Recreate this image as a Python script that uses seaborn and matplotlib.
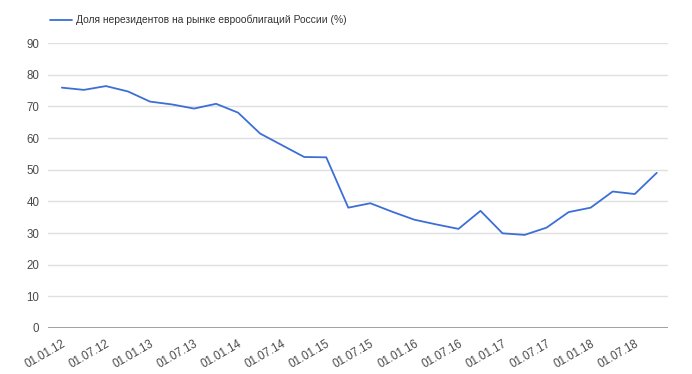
import numpy as np
import pandas as pd
import matplotlib.pyplot as plt
import seaborn as sns

# квартальные данные
kvartaly = ["01.01.12", "01.04.12", "01.07.12", "01.10.12",
            "01.01.13", "01.04.13", "01.07.13", "01.10.13",
            "01.01.14", "01.04.14", "01.07.14", "01.10.14",
            "01.01.15", "01.04.15", "01.07.15", "01.10.15",
            "01.01.16", "01.04.16", "01.07.16", "01.10.16",
            "01.01.17", "01.04.17", "01.07.17", "01.10.17",
            "01.01.18", "01.04.18", "01.07.18", "01.10.18"]
dolya = [75.9, 75.2, 76.4, 74.7, 71.5, 70.6, 69.3, 70.8,
         68.0, 61.4, 57.7, 54.0, 53.9, 38.0, 39.4, 36.7,
         34.2, 32.7, 31.3, 37.0, 29.9, 29.4, 31.7, 36.6,
         38.0, 43.1, 42.3, 49.0]
seriya = "Доля нерезидентов на рынке еврооблигаций России (%)"

df = pd.DataFrame({"n": np.arange(len(kvartaly)), "dolya": dolya})

sns.set_style("white")
plt.rcParams['font.family'] = ['Liberation Sans', 'DejaVu Sans']

fig = plt.figure(figsize=(6.92, 3.74), dpi=100)
ax = fig.add_axes([0.069, 0.123, 0.896, 0.762])

sns.lineplot(data=df, x="n", y="dolya", color="#3c6fd6", linewidth=1.3,
             label=seriya, ax=ax)

ax.set_ylim(0, 90)
ax.set_yticks(range(0, 91, 10))
ax.set_xlim(-0.64, len(kvartaly) - 1 + 0.5)
tick_pos = list(range(0, len(kvartaly), 2))
ax.set_xticks(tick_pos)
ax.set_xticklabels([kvartaly[i] for i in tick_pos], rotation=30,
                   ha="right", rotation_mode="anchor")
ax.tick_params(axis="both", length=0, labelsize=8.3, colors="#4a4a4a")
ax.tick_params(axis="y", pad=6)
ax.tick_params(axis="x", pad=7)
ax.grid(axis="y", color="#e0e0e0", linewidth=1)
for s in ["top", "right", "left", "bottom"]:
    ax.spines[s].set_visible(False)
ax.axhline(0, color="#999999", linewidth=1.3)
ax.set_xlabel("")
ax.set_ylabel("")

ax.legend(loc="center left", bbox_to_anchor=(0.003, 1.081), frameon=False,
          fontsize=7.4, handlelength=2.2, handletextpad=0.35,
          borderaxespad=0, borderpad=0, labelcolor="#333333")

plt.savefig("out.png", dpi=100)
